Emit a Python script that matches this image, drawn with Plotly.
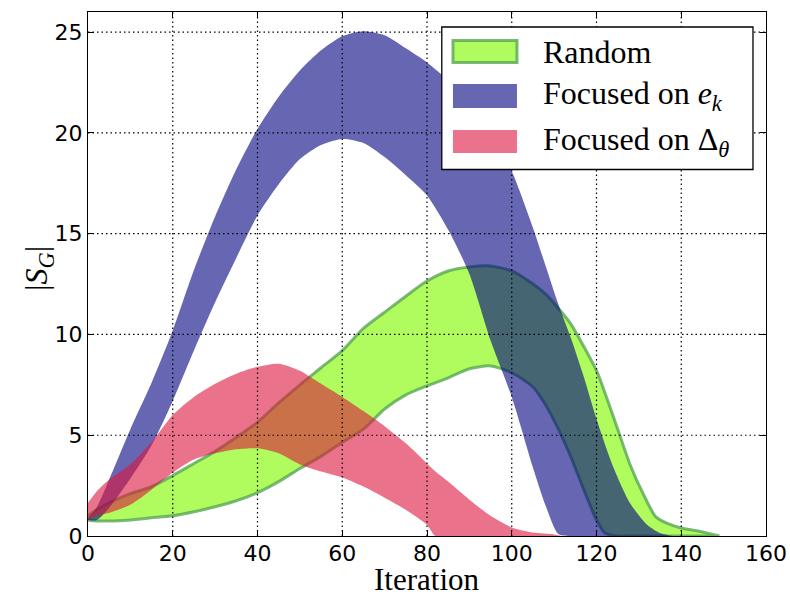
import plotly.graph_objects as go

# ---- data -------------------------------------------------------------
# Random selection: band of |S_G| per iteration
rand_iter = [0, 2, 5, 10, 15, 20, 25, 30, 35, 40, 45, 50, 55, 60, 65, 70, 75, 80,
             85, 90, 95, 100, 105, 108, 111, 114, 117, 120, 122, 125, 128, 131,
             134, 137, 140, 144, 149]
rand_upper = [1.0, 1.3, 1.65, 2.1, 2.45, 3.0, 3.6, 4.2, 4.9, 5.65, 6.6, 7.5, 8.35,
              9.2, 10.3, 11.1, 11.9, 12.65, 13.15, 13.35, 13.4, 13.15, 12.5, 12.0,
              11.3, 10.5, 9.4, 8.2, 7.1, 5.3, 3.5, 2.1, 0.95, 0.6, 0.4, 0.25, 0.0]
rand_lower = [0.78, 0.75, 0.74, 0.8, 0.9, 1.0, 1.2, 1.45, 1.75, 2.15, 2.7, 3.35,
              3.95, 4.65, 5.3, 6.3, 7.0, 7.45, 7.85, 8.3, 8.44, 8.1, 7.4, 6.5,
              5.3, 3.9, 2.3, 0.8, 0.15, 0.0, 0.0, 0.0, 0.0, 0.0, 0.0, 0.0, 0.0]

# Focused on e_k
ek_iter = [0, 2, 5, 10, 15, 20, 25, 30, 35, 40, 45, 50, 55, 60, 65, 70, 75, 80,
           85, 90, 95, 100, 105, 108, 111, 114, 117, 120, 124, 128, 132, 135, 138]
ek_upper = [0.9, 1.4, 2.8, 5.3, 7.6, 10.2, 13.2, 15.85, 18.2, 20.2, 21.8, 23.1,
            24.1, 24.8, 25.05, 24.85, 24.2, 23.5, 22.6, 21.4, 20.0, 18.1, 15.3,
            13.4, 11.5, 9.8, 7.9, 5.8, 3.4, 1.6, 0.55, 0.15, 0.0]
ek_lower = [0.8, 0.78, 1.4, 2.85, 4.5, 6.7, 9.2, 11.6, 13.8, 15.9, 17.45, 18.7,
            19.4, 19.7, 19.5, 18.8, 17.9, 16.9, 15.2, 13.0, 9.7, 6.9, 3.4, 1.5,
            0.1, 0.0, 0.0, 0.0, 0.0, 0.0, 0.0, 0.0, 0.0]

# Focused on Delta_theta
dt_iter = [0, 2, 5, 10, 15, 20, 25, 30, 35, 40, 45, 50, 55, 60, 65, 70, 75, 80,
           82, 85, 90, 95, 100, 105, 110, 112]
dt_upper = [1.65, 2.2, 2.8, 3.55, 4.65, 6.0, 6.9, 7.55, 8.05, 8.4, 8.55, 8.2,
            7.55, 6.9, 6.2, 5.45, 4.6, 3.6, 3.2, 2.7, 1.8, 1.0, 0.42, 0.17, 0.08, 0.0]
dt_lower = [0.8, 1.0, 1.15, 1.55, 2.3, 3.15, 3.8, 4.1, 4.3, 4.35, 4.1, 3.55,
            3.2, 2.9, 2.45, 1.9, 1.3, 0.55, 0.0, 0.0, 0.0, 0.0, 0.0, 0.0, 0.0, 0.0]

x_ticks = [0, 20, 40, 60, 80, 100, 120, 140, 160]
y_ticks = [0, 5, 10, 15, 20, 25]

x_title = "Iteration"
y_title = "|<i>S</i><sub><i>G</i></sub>|"
legend_labels = ["Random",
                 "Focused on <i>e</i><sub><i>k</i></sub>",
                 "Focused on \u0394<sub><i>\u03b8</i></sub>"]

# ---- styles -----------------------------------------------------------
GREEN_FILL = "rgb(176,252,94)"
GREEN_EDGE = "rgba(80,160,80,0.75)"
BLUE_FILL = "rgba(0,0,128,0.6)"
RED_FILL = "rgba(220,20,60,0.6)"
SERIF = "Liberation Serif"
SANS = "DejaVu Sans"
CURVE = dict(shape="spline", smoothing=0.7)


def band(xs, upper, lower):
    """Closed outline of the region between two curves."""
    return list(xs) + list(xs)[::-1], list(upper) + list(lower)[::-1]


fig = go.Figure()

gx, gy = band(rand_iter, rand_upper, rand_lower)
fig.add_trace(go.Scatter(x=gx, y=gy, fill="toself", fillcolor=GREEN_FILL,
                         mode="lines", line=dict(color=GREEN_EDGE, width=3, **CURVE),
                         name="Random", showlegend=False, hoverinfo="skip"))

bx, by = band(ek_iter, ek_upper, ek_lower)
fig.add_trace(go.Scatter(x=bx, y=by, fill="toself", fillcolor=BLUE_FILL,
                         mode="lines", line=dict(width=0, **CURVE),
                         name="Focused on e_k", showlegend=False, hoverinfo="skip"))

rx, ry = band(dt_iter, dt_upper, dt_lower)
fig.add_trace(go.Scatter(x=rx, y=ry, fill="toself", fillcolor=RED_FILL,
                         mode="lines", line=dict(width=0, **CURVE),
                         name="Focused on Delta_theta", showlegend=False,
                         hoverinfo="skip"))

shapes = []
# dotted grid drawn over the bands
for v in x_ticks[1:-1]:
    shapes.append(dict(type="line", xref="x", yref="paper", x0=v, x1=v, y0=0, y1=1,
                       line=dict(color="black", width=1.2, dash="1.5px,3px"),
                       layer="above"))
for v in y_ticks[1:]:
    shapes.append(dict(type="line", xref="paper", yref="y", x0=0, x1=1, y0=v, y1=v,
                       line=dict(color="black", width=1.2, dash="1.5px,3px"),
                       layer="above"))

# legend box with patches
shapes.append(dict(type="rect", xref="paper", yref="paper",
                   x0=0.5218, x1=0.9808, y0=0.6994, y1=0.9714,
                   fillcolor="white", line=dict(color="black", width=1.3),
                   layer="above"))
patch_fills = [GREEN_FILL, BLUE_FILL, RED_FILL]
patch_edges = [dict(color=GREEN_EDGE, width=3), dict(width=0), dict(width=0)]
patch_rows = [(0.9036, 0.9456), (0.8168, 0.8626), (0.7309, 0.7748)]
annotations = []
for fillc, edge, (y0, y1), label in zip(patch_fills, patch_edges, patch_rows,
                                         legend_labels):
    shapes.append(dict(type="rect", xref="paper", yref="paper",
                       x0=0.5383, x1=0.6327, y0=y0, y1=y1,
                       fillcolor=fillc, line=edge, layer="above"))
    annotations.append(dict(xref="paper", yref="paper", x=0.668, y=(y0 + y1) / 2,
                            text=label, showarrow=False, xanchor="left",
                            yanchor="middle",
                            font=dict(family=SERIF, size=32, color="black")))

# axis titles
annotations.append(dict(xref="paper", yref="paper", x=0.5, y=-0.1183,
                        text=x_title, showarrow=False, xanchor="center",
                        yanchor="bottom", borderpad=0,
                        font=dict(family=SERIF, size=31, color="black")))
annotations.append(dict(xref="paper", yref="paper", x=-0.072, y=0.51,
                        text=y_title, showarrow=False, textangle=-90,
                        xanchor="center", yanchor="middle",
                        font=dict(family=SERIF, size=32, color="black")))

axis_common = dict(showline=True, linecolor="black", linewidth=1.3, mirror="allticks",
                   ticks="inside", ticklen=6, tickwidth=1.2, tickcolor="black",
                   showgrid=False, zeroline=False, automargin=False,
                   tickfont=dict(family=SANS, size=22, color="black"))

fig.update_layout(
    width=790, height=598,
    margin=dict(l=88, r=24, t=12, b=62),
    paper_bgcolor="white", plot_bgcolor="white",
    showlegend=False,
    shapes=shapes, annotations=annotations,
    xaxis=dict(range=[0, 160], tickvals=x_ticks, ticklabelstandoff=-3,
               **axis_common),
    yaxis=dict(range=[0, 26], tickvals=y_ticks, **axis_common),
)

fig.write_html("out.html")
